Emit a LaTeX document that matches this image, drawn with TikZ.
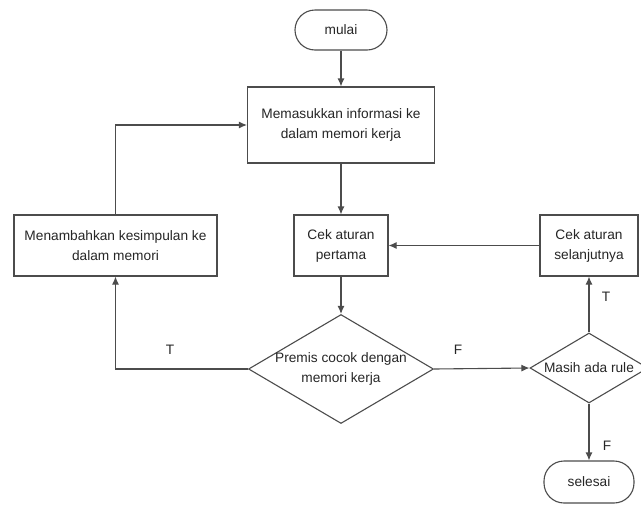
\documentclass[tikz,border=0pt]{standalone}
\usepackage{fontspec}
\setmainfont{Liberation Sans}
\usetikzlibrary{shapes.geometric,arrows.meta}
\begin{document}
\begin{tikzpicture}[x=1pt,y=-1pt,
  font=\fontsize{13.7}{20}\selectfont,
  every node/.style={text=black!85},
  proc/.style={draw=black!70, line width=1.1pt, fill=white, align=center, inner sep=0pt},
  term/.style={proc, rounded corners=20pt},
  decision/.style={draw=black!70, line width=1.1pt, diamond, inner sep=0pt},
  conn/.style={draw=black!70, line width=1.1pt, -{Latex[length=8pt,width=7pt]}},
  lbl/.style={font=\fontsize{13.7}{16}\selectfont}
]
\useasboundingbox (0,0) rectangle (641,507);
\node[term, minimum width=92pt, minimum height=40pt] (start) at (341,30) {mulai};
\node[proc, minimum width=187pt, minimum height=76pt] (input) at (341,125) {Memasukkan informasi ke\\dalam memori kerja};
\node[proc, minimum width=94pt, minimum height=61pt] (first) at (341,245.5) {Cek aturan\\pertama};
\node[proc, minimum width=203pt, minimum height=61pt] (add) at (115.5,245.5) {Menambahkan kesimpulan ke\\dalam memori};
\node[proc, minimum width=98pt, minimum height=61pt] (next) at (589,245.5) {Cek aturan\\selanjutnya};
\node[decision, minimum width=185pt, minimum height=109pt, label={[align=center]center:Premis cocok dengan\\memori kerja}] (match) at (341,369) {};
\node[decision, minimum width=118pt, minimum height=70pt, label=center:Masih ada rule] (more) at (589,368) {};
\node[term, minimum width=90pt, minimum height=42pt] (end) at (589,482) {selesai};

\draw[conn] (start) -- (input);
\draw[conn] (input) -- (first);
\draw[conn] (first) -- (match);
\draw[conn] (match.west) -| (add.south);
\draw[conn] (add.north) |- (input.west);
\draw[conn] (match.east) -- (more.west);
\draw[conn] (more.north) -- (next.south);
\draw[conn] (next.west) -- (first.east);
\draw[conn] (more.south) -- (end.north);

\node[lbl] (tl) at (170,350) {T};
\node[lbl] (fl) at (458,350) {F};
\node[lbl] (tr) at (606,297) {T};
\node[lbl] (fr) at (607,446) {F};
\end{tikzpicture}
\end{document}
